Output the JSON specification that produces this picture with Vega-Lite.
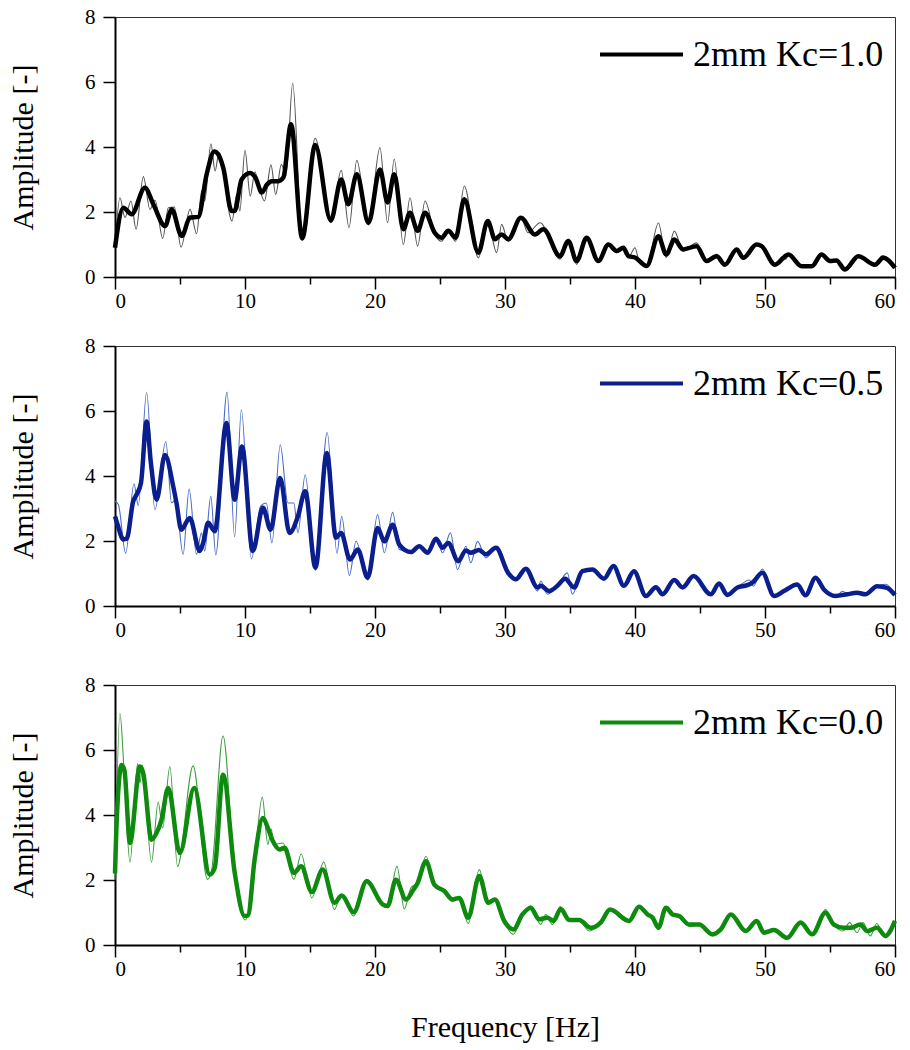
{
"$schema": "https://vega.github.io/schema/vega-lite/v6.json",
"padding": {"left": 8, "top": 5, "right": 5, "bottom": 5},
"background": "white",
"config": {
  "view": {"stroke": "#333", "strokeWidth": 1},
  "axis": {"labelFont": "Liberation Serif", "labelFontSize": 21, "labelColor": "#000", "titleFont": "Liberation Serif", "titleFontSize": 30, "titleFontWeight": "normal", "titleColor": "#000", "domainColor": "#000", "domainWidth": 2, "tickColor": "#000", "tickWidth": 1.5, "grid": false},
  "legend": {"labelFont": "Liberation Serif", "labelFontSize": 36, "labelColor": "#000", "labelLimit": 500, "symbolType": "stroke", "symbolSize": 6889, "symbolStrokeWidth": 4, "orient": "none", "legendX": 483, "legendY": -6, "padding": 0, "labelOffset": 8, "title": null}
},
"resolve": {"scale": {"color": "independent"}},
"spacing": 20,
"datasets": {
"k10s": [{"f":0,"a":0.9},{"f":0.64,"a":2.13},{"f":1.28,"a":1.93},{"f":2.3,"a":2.75},{"f":2.95,"a":2.24},{"f":3.85,"a":1.57},{"f":4.36,"a":2.08},{"f":5.13,"a":1.26},{"f":5.77,"a":1.83},{"f":6.4,"a":1.85},{"f":7.05,"a":3.16},{"f":7.64,"a":3.86},{"f":7.95,"a":3.77},{"f":8.33,"a":3.36},{"f":8.97,"a":2.03},{"f":9.2,"a":2.03},{"f":9.74,"a":3.0},{"f":10.4,"a":3.2},{"f":10.8,"a":3.06},{"f":11.3,"a":2.6},{"f":11.7,"a":2.85},{"f":12.05,"a":2.95},{"f":12.56,"a":2.95},{"f":12.95,"a":3.06},{"f":13.54,"a":4.7},{"f":14.4,"a":1.19},{"f":15.4,"a":4.06},{"f":16.6,"a":1.74},{"f":17.4,"a":3.0},{"f":17.95,"a":2.24},{"f":18.6,"a":3.16},{"f":19.5,"a":1.67},{"f":20.38,"a":3.31},{"f":20.97,"a":2.29},{"f":21.48,"a":3.16},{"f":22.18,"a":1.47},{"f":22.69,"a":1.98},{"f":23.28,"a":1.42},{"f":23.85,"a":1.98},{"f":24.6,"a":1.36},{"f":25.13,"a":1.21},{"f":25.64,"a":1.42},{"f":26.2,"a":1.21},{"f":26.87,"a":2.39},{"f":27.95,"a":0.75},{"f":28.67,"a":1.72},{"f":29.23,"a":1.16},{"f":29.74,"a":1.31},{"f":30.25,"a":1.16},{"f":31.22,"a":1.82},{"f":32.3,"a":1.31},{"f":32.95,"a":1.47},{"f":34.23,"a":0.64},{"f":34.87,"a":1.11},{"f":35.51,"a":0.49},{"f":36.28,"a":1.21},{"f":37.18,"a":0.49},{"f":37.95,"a":1.0},{"f":38.59,"a":0.8},{"f":39.1,"a":0.9},{"f":39.5,"a":0.64},{"f":40.0,"a":0.6},{"f":40.9,"a":0.34},{"f":41.8,"a":1.25},{"f":42.4,"a":0.69},{"f":43.03,"a":1.15},{"f":43.7,"a":0.85},{"f":44.74,"a":0.95},{"f":45.5,"a":0.49},{"f":46.28,"a":0.64},{"f":46.92,"a":0.38},{"f":47.82,"a":0.85},{"f":48.33,"a":0.59},{"f":49.35,"a":1.0},{"f":49.74,"a":0.95},{"f":50.77,"a":0.38},{"f":51.8,"a":0.69},{"f":52.82,"a":0.33},{"f":53.6,"a":0.33},{"f":54.35,"a":0.69},{"f":55.0,"a":0.49},{"f":55.5,"a":0.51},{"f":56.15,"a":0.23},{"f":57.18,"a":0.64},{"f":58.46,"a":0.38},{"f":59.1,"a":0.59},{"f":60,"a":0.28}],
"k10r": [{"f":0,"a":0.9},{"f":0.38,"a":2.44},{"f":0.77,"a":1.83},{"f":1.23,"a":2.34},{"f":1.62,"a":1.47},{"f":2.18,"a":3.09},{"f":2.69,"a":2.08},{"f":3.08,"a":2.36},{"f":3.67,"a":1.19},{"f":4.1,"a":2.13},{"f":4.56,"a":2.15},{"f":5.08,"a":0.92},{"f":5.77,"a":2.08},{"f":6.28,"a":1.33},{"f":6.67,"a":2.65},{"f":6.9,"a":2.34},{"f":7.38,"a":4.1},{"f":7.7,"a":3.26},{"f":8.0,"a":3.83},{"f":9.0,"a":1.72},{"f":9.36,"a":2.54},{"f":9.6,"a":2.03},{"f":10.0,"a":3.9},{"f":10.4,"a":2.49},{"f":10.77,"a":3.24},{"f":11.0,"a":2.9},{"f":11.5,"a":2.34},{"f":12.0,"a":3.45},{"f":12.36,"a":2.54},{"f":12.8,"a":3.47},{"f":13.15,"a":3.1},{"f":13.67,"a":5.96},{"f":14.4,"a":1.13},{"f":15.4,"a":4.27},{"f":16.6,"a":1.67},{"f":17.4,"a":3.28},{"f":18.0,"a":1.52},{"f":18.6,"a":3.59},{"f":19.5,"a":1.6},{"f":20.38,"a":3.98},{"f":20.97,"a":1.67},{"f":21.48,"a":3.63},{"f":22.18,"a":1.0},{"f":22.69,"a":2.44},{"f":23.28,"a":0.95},{"f":23.85,"a":2.34},{"f":24.6,"a":1.31},{"f":25.13,"a":1.1},{"f":25.64,"a":1.42},{"f":26.2,"a":1.1},{"f":26.87,"a":2.8},{"f":27.95,"a":0.59},{"f":28.67,"a":1.7},{"f":29.36,"a":0.75},{"f":29.74,"a":1.62},{"f":30.25,"a":1.1},{"f":31.22,"a":1.85},{"f":31.77,"a":1.36},{"f":32.7,"a":1.67},{"f":34.23,"a":0.55},{"f":34.87,"a":1.16},{"f":35.51,"a":0.39},{"f":36.28,"a":1.25},{"f":37.18,"a":0.45},{"f":37.95,"a":1.0},{"f":38.59,"a":0.75},{"f":39.1,"a":0.85},{"f":39.49,"a":0.6},{"f":40.0,"a":0.9},{"f":40.3,"a":0.5},{"f":40.9,"a":0.3},{"f":41.8,"a":1.66},{"f":42.4,"a":0.6},{"f":43.03,"a":1.41},{"f":43.7,"a":0.8},{"f":44.74,"a":1.05},{"f":45.5,"a":0.45},{"f":46.28,"a":0.7},{"f":46.92,"a":0.35},{"f":47.82,"a":0.85},{"f":48.33,"a":0.55},{"f":49.35,"a":1.0},{"f":49.74,"a":0.98},{"f":50.77,"a":0.35},{"f":51.3,"a":0.62},{"f":51.6,"a":0.55},{"f":51.9,"a":0.72},{"f":52.82,"a":0.3},{"f":53.6,"a":0.3},{"f":54.35,"a":0.72},{"f":55.0,"a":0.45},{"f":55.5,"a":0.51},{"f":56.15,"a":0.2},{"f":57.18,"a":0.64},{"f":58.46,"a":0.38},{"f":59.0,"a":0.65},{"f":60,"a":0.28}],
"k05s": [{"f":0,"a":2.76},{"f":0.2,"a":2.5},{"f":0.64,"a":2.05},{"f":0.9,"a":2.07},{"f":1.4,"a":3.22},{"f":1.66,"a":3.43},{"f":2.0,"a":3.79},{"f":2.43,"a":5.68},{"f":2.76,"a":4.4},{"f":3.2,"a":3.27},{"f":3.84,"a":4.65},{"f":4.48,"a":3.68},{"f":4.73,"a":3.17},{"f":5.1,"a":2.35},{"f":5.75,"a":2.71},{"f":6.52,"a":1.69},{"f":6.78,"a":1.94},{"f":7.16,"a":2.56},{"f":7.67,"a":2.3},{"f":8.57,"a":5.63},{"f":9.2,"a":3.27},{"f":9.77,"a":4.91},{"f":10.6,"a":1.69},{"f":11.38,"a":3.02},{"f":11.97,"a":2.35},{"f":12.7,"a":3.94},{"f":13.43,"a":2.25},{"f":14.07,"a":2.76},{"f":14.63,"a":3.53},{"f":15.42,"a":1.18},{"f":16.29,"a":4.71},{"f":17.0,"a":2.1},{"f":17.39,"a":2.25},{"f":18.08,"a":1.43},{"f":18.67,"a":1.74},{"f":19.44,"a":0.87},{"f":20.2,"a":2.4},{"f":20.72,"a":1.99},{"f":21.36,"a":2.5},{"f":21.87,"a":1.89},{"f":22.77,"a":1.66},{"f":23.4,"a":1.84},{"f":24.05,"a":1.64},{"f":24.69,"a":2.07},{"f":25.2,"a":1.79},{"f":25.63,"a":1.94},{"f":26.4,"a":1.38},{"f":26.99,"a":1.71},{"f":27.37,"a":1.64},{"f":28.0,"a":1.72},{"f":28.53,"a":1.59},{"f":29.3,"a":1.79},{"f":30.24,"a":1.02},{"f":30.83,"a":0.82},{"f":31.6,"a":1.15},{"f":32.5,"a":0.57},{"f":32.75,"a":0.62},{"f":33.39,"a":0.46},{"f":34.03,"a":0.62},{"f":34.62,"a":0.84},{"f":35.31,"a":0.57},{"f":35.95,"a":1.07},{"f":36.72,"a":1.12},{"f":37.62,"a":0.84},{"f":38.34,"a":1.23},{"f":39.15,"a":0.62},{"f":39.92,"a":1.07},{"f":40.84,"a":0.31},{"f":41.61,"a":0.58},{"f":42.12,"a":0.36},{"f":43.02,"a":0.8},{"f":43.66,"a":0.57},{"f":44.5,"a":0.92},{"f":45.83,"a":0.36},{"f":46.47,"a":0.69},{"f":47.1,"a":0.34},{"f":47.88,"a":0.57},{"f":48.64,"a":0.64},{"f":49.03,"a":0.72},{"f":49.8,"a":1.02},{"f":50.7,"a":0.31},{"f":51.46,"a":0.46},{"f":52.48,"a":0.66},{"f":53.12,"a":0.33},{"f":53.89,"a":0.87},{"f":54.53,"a":0.51},{"f":55.42,"a":0.31},{"f":56.32,"a":0.36},{"f":57.08,"a":0.41},{"f":57.72,"a":0.36},{"f":58.62,"a":0.61},{"f":59.39,"a":0.56},{"f":60,"a":0.34}],
"k05r": [{"f":0,"a":3.22},{"f":0.26,"a":3.12},{"f":0.82,"a":1.62},{"f":1.46,"a":3.76},{"f":1.79,"a":3.09},{"f":2.43,"a":6.57},{"f":3.07,"a":2.97},{"f":3.91,"a":5.06},{"f":4.35,"a":3.17},{"f":4.65,"a":3.27},{"f":5.24,"a":1.59},{"f":5.7,"a":3.6},{"f":6.27,"a":1.59},{"f":6.65,"a":2.25},{"f":6.9,"a":1.69},{"f":7.37,"a":3.38},{"f":7.75,"a":1.57},{"f":8.62,"a":6.58},{"f":9.2,"a":2.13},{"f":9.72,"a":6.04},{"f":10.49,"a":1.45},{"f":11.2,"a":3.07},{"f":11.64,"a":3.17},{"f":12.07,"a":1.94},{"f":12.71,"a":4.96},{"f":13.3,"a":3.17},{"f":13.76,"a":3.17},{"f":14.07,"a":2.25},{"f":14.63,"a":4.04},{"f":15.42,"a":1.1},{"f":16.32,"a":5.34},{"f":17.08,"a":1.62},{"f":17.44,"a":2.76},{"f":18.03,"a":0.94},{"f":18.54,"a":1.99},{"f":19.44,"a":0.8},{"f":20.2,"a":2.81},{"f":20.72,"a":1.64},{"f":21.36,"a":2.88},{"f":21.87,"a":1.74},{"f":22.77,"a":1.66},{"f":23.4,"a":1.84},{"f":24.05,"a":1.64},{"f":24.69,"a":2.1},{"f":25.2,"a":1.64},{"f":25.8,"a":2.25},{"f":26.35,"a":1.12},{"f":26.99,"a":1.84},{"f":27.37,"a":1.33},{"f":27.89,"a":1.99},{"f":28.53,"a":1.48},{"f":29.42,"a":1.84},{"f":30.24,"a":1.02},{"f":30.83,"a":0.82},{"f":31.6,"a":1.15},{"f":32.5,"a":0.46},{"f":32.75,"a":0.77},{"f":33.26,"a":0.36},{"f":34.03,"a":0.62},{"f":34.8,"a":1.02},{"f":35.18,"a":0.36},{"f":35.95,"a":1.07},{"f":36.72,"a":1.12},{"f":37.62,"a":0.84},{"f":38.34,"a":1.25},{"f":39.15,"a":0.6},{"f":39.92,"a":1.07},{"f":40.84,"a":0.3},{"f":41.61,"a":0.58},{"f":42.12,"a":0.36},{"f":43.02,"a":0.8},{"f":43.66,"a":0.57},{"f":44.5,"a":0.92},{"f":45.83,"a":0.36},{"f":46.47,"a":0.69},{"f":47.1,"a":0.34},{"f":47.88,"a":0.57},{"f":48.8,"a":0.8},{"f":49.1,"a":0.61},{"f":49.8,"a":1.14},{"f":50.7,"a":0.3},{"f":51.46,"a":0.46},{"f":52.48,"a":0.66},{"f":53.12,"a":0.33},{"f":53.89,"a":0.87},{"f":54.53,"a":0.51},{"f":55.42,"a":0.31},{"f":56.0,"a":0.45},{"f":56.32,"a":0.36},{"f":57.08,"a":0.41},{"f":57.72,"a":0.36},{"f":58.62,"a":0.61},{"f":59.3,"a":0.67},{"f":60,"a":0.34}],
"k00s": [{"f":0,"a":2.2},{"f":0.15,"a":4.0},{"f":0.51,"a":5.54},{"f":0.72,"a":5.39},{"f":1.15,"a":3.14},{"f":1.92,"a":5.49},{"f":2.17,"a":5.29},{"f":2.81,"a":3.24},{"f":3.2,"a":3.45},{"f":3.58,"a":3.86},{"f":4.09,"a":4.83},{"f":4.99,"a":2.83},{"f":6.09,"a":4.83},{"f":7.29,"a":2.17},{"f":7.67,"a":2.37},{"f":8.31,"a":5.24},{"f":9.21,"a":2.22},{"f":9.97,"a":0.89},{"f":10.23,"a":0.91},{"f":10.74,"a":2.63},{"f":11.38,"a":3.91},{"f":11.76,"a":3.6},{"f":12.15,"a":3.19},{"f":12.66,"a":2.94},{"f":13.04,"a":2.99},{"f":13.76,"a":2.22},{"f":14.32,"a":2.42},{"f":15.14,"a":1.63},{"f":15.98,"a":2.32},{"f":16.88,"a":1.3},{"f":17.44,"a":1.52},{"f":18.36,"a":1.01},{"f":19.36,"a":1.96},{"f":20.59,"a":1.25},{"f":20.97,"a":1.2},{"f":21.61,"a":2.01},{"f":22.38,"a":1.4},{"f":22.89,"a":1.66},{"f":23.28,"a":1.91},{"f":23.92,"a":2.58},{"f":24.56,"a":1.86},{"f":25.33,"a":1.66},{"f":25.97,"a":1.4},{"f":26.48,"a":1.45},{"f":27.17,"a":0.84},{"f":28.02,"a":2.12},{"f":28.71,"a":1.3},{"f":29.22,"a":1.4},{"f":29.94,"a":0.74},{"f":30.65,"a":0.48},{"f":31.34,"a":0.94},{"f":31.98,"a":1.15},{"f":32.62,"a":0.79},{"f":33.26,"a":0.84},{"f":33.73,"a":0.74},{"f":34.29,"a":1.11},{"f":34.93,"a":0.77},{"f":35.7,"a":0.77},{"f":36.6,"a":0.53},{"f":37.36,"a":0.69},{"f":38.08,"a":1.09},{"f":39.54,"a":0.74},{"f":40.31,"a":1.18},{"f":40.97,"a":0.94},{"f":41.36,"a":0.84},{"f":41.8,"a":0.53},{"f":42.38,"a":1.15},{"f":42.89,"a":0.94},{"f":43.4,"a":0.89},{"f":44.17,"a":0.63},{"f":44.94,"a":0.63},{"f":45.96,"a":0.33},{"f":46.6,"a":0.48},{"f":47.37,"a":0.94},{"f":48.52,"a":0.43},{"f":49.36,"a":0.74},{"f":49.92,"a":0.38},{"f":50.69,"a":0.46},{"f":51.71,"a":0.22},{"f":52.74,"a":0.69},{"f":53.63,"a":0.33},{"f":54.65,"a":0.99},{"f":55.29,"a":0.63},{"f":56.06,"a":0.53},{"f":56.57,"a":0.53},{"f":57.34,"a":0.63},{"f":57.85,"a":0.43},{"f":58.62,"a":0.53},{"f":59.26,"a":0.28},{"f":60,"a":0.74}],
"k00r": [{"f":0,"a":2.0},{"f":0.38,"a":7.13},{"f":0.72,"a":5.19},{"f":1.15,"a":2.55},{"f":1.74,"a":5.58},{"f":1.92,"a":4.98},{"f":2.1,"a":5.54},{"f":2.81,"a":2.55},{"f":3.32,"a":4.4},{"f":3.66,"a":3.6},{"f":4.22,"a":5.49},{"f":4.81,"a":2.42},{"f":6.01,"a":5.51},{"f":7.11,"a":2.02},{"f":7.42,"a":2.27},{"f":8.31,"a":6.43},{"f":9.21,"a":2.12},{"f":10.03,"a":0.77},{"f":10.74,"a":2.6},{"f":11.33,"a":4.55},{"f":11.76,"a":3.09},{"f":12.02,"a":3.57},{"f":12.22,"a":3.09},{"f":12.92,"a":3.14},{"f":13.76,"a":2.02},{"f":14.32,"a":2.8},{"f":15.14,"a":1.45},{"f":16.06,"a":2.55},{"f":16.88,"a":1.09},{"f":17.39,"a":1.55},{"f":18.36,"a":0.89},{"f":19.36,"a":2.02},{"f":20.59,"a":1.2},{"f":20.97,"a":1.15},{"f":21.69,"a":2.42},{"f":22.25,"a":1.11},{"f":22.76,"a":1.76},{"f":23.28,"a":1.91},{"f":23.92,"a":2.73},{"f":24.56,"a":1.86},{"f":25.33,"a":1.66},{"f":25.97,"a":1.35},{"f":26.48,"a":1.45},{"f":27.17,"a":0.66},{"f":28.02,"a":2.32},{"f":28.71,"a":1.25},{"f":29.22,"a":1.4},{"f":29.94,"a":0.7},{"f":30.65,"a":0.33},{"f":31.34,"a":0.94},{"f":31.98,"a":1.2},{"f":32.75,"a":0.63},{"f":33.13,"a":0.94},{"f":33.65,"a":0.63},{"f":34.24,"a":1.18},{"f":34.93,"a":0.74},{"f":35.7,"a":0.77},{"f":36.47,"a":0.43},{"f":37.36,"a":0.69},{"f":38.08,"a":1.12},{"f":39.54,"a":0.72},{"f":40.31,"a":1.2},{"f":40.97,"a":0.9},{"f":41.36,"a":0.84},{"f":41.8,"a":0.48},{"f":42.5,"a":1.18},{"f":42.89,"a":0.94},{"f":43.4,"a":0.89},{"f":44.25,"a":0.56},{"f":44.94,"a":0.66},{"f":45.96,"a":0.28},{"f":46.6,"a":0.48},{"f":47.37,"a":0.96},{"f":48.52,"a":0.4},{"f":49.36,"a":0.76},{"f":49.92,"a":0.35},{"f":50.69,"a":0.46},{"f":51.71,"a":0.2},{"f":52.74,"a":0.7},{"f":53.63,"a":0.3},{"f":54.65,"a":1.09},{"f":55.29,"a":0.63},{"f":56.0,"a":0.43},{"f":56.5,"a":0.69},{"f":57.08,"a":0.38},{"f":57.54,"a":0.69},{"f":58.1,"a":0.28},{"f":58.6,"a":0.66},{"f":59.26,"a":0.22},{"f":60,"a":0.74}]
},
"vconcat": [
{
 "width": 780, "height": 260,
 "layer": [
  {"data": {"name": "k10r"}, "mark": {"type": "line", "interpolate": "monotone", "color": "#555555", "strokeWidth": 1.1},
   "encoding": {
    "x": {"field": "f", "type": "quantitative", "scale": {"domain": [0, 60], "nice": false}, "axis": {"values": [0,5,10,15,20,25,30,35,40,45,50,55,60], "labelExpr": "datum.value % 10 === 0 ? datum.label : ''", "tickSize": {"condition": {"test": "datum.value % 10 === 0", "value": 12}, "value": 7}, "labelPadding": 1, "title": null, "minExtent": 36}},
    "y": {"field": "a", "type": "quantitative", "scale": {"domain": [0, 8], "nice": false}, "axis": {"values": [0,1,2,3,4,5,6,7,8], "labelExpr": "datum.value % 2 === 0 ? datum.label : ''", "tickSize": {"condition": {"test": "datum.value % 2 === 0", "value": 12}, "value": 7}, "labelPadding": 8, "title": "Amplitude [-]", "titlePadding": 46}}
   }},
  {"data": {"name": "k10s"}, "mark": {"type": "line", "interpolate": "monotone", "strokeWidth": 4.5},
   "encoding": {
    "x": {"field": "f", "type": "quantitative"},
    "y": {"field": "a", "type": "quantitative"},
    "color": {"datum": "2mm Kc=1.0", "scale": {"range": ["#000000"]}}
   }}
 ]
},
{
 "width": 780, "height": 260,
 "layer": [
  {"data": {"name": "k05r"}, "mark": {"type": "line", "interpolate": "monotone", "color": "#4a6cc8", "strokeWidth": 1.1},
   "encoding": {
    "x": {"field": "f", "type": "quantitative", "scale": {"domain": [0, 60], "nice": false}, "axis": {"values": [0,5,10,15,20,25,30,35,40,45,50,55,60], "labelExpr": "datum.value % 10 === 0 ? datum.label : ''", "tickSize": {"condition": {"test": "datum.value % 10 === 0", "value": 12}, "value": 7}, "labelPadding": 1, "title": null, "minExtent": 46}},
    "y": {"field": "a", "type": "quantitative", "scale": {"domain": [0, 8], "nice": false}, "axis": {"values": [0,1,2,3,4,5,6,7,8], "labelExpr": "datum.value % 2 === 0 ? datum.label : ''", "tickSize": {"condition": {"test": "datum.value % 2 === 0", "value": 12}, "value": 7}, "labelPadding": 8, "title": "Amplitude [-]", "titlePadding": 46}}
   }},
  {"data": {"name": "k05s"}, "mark": {"type": "line", "interpolate": "monotone", "strokeWidth": 4.5},
   "encoding": {
    "x": {"field": "f", "type": "quantitative"},
    "y": {"field": "a", "type": "quantitative"},
    "color": {"datum": "2mm Kc=0.5", "scale": {"range": ["#0b1e8e"]}}
   }}
 ]
},
{
 "width": 780, "height": 260,
 "layer": [
  {"data": {"name": "k00r"}, "mark": {"type": "line", "interpolate": "monotone", "color": "#3c9e3c", "strokeWidth": 1.1},
   "encoding": {
    "x": {"field": "f", "type": "quantitative", "scale": {"domain": [0, 60], "nice": false}, "axis": {"values": [0,5,10,15,20,25,30,35,40,45,50,55,60], "labelExpr": "datum.value % 10 === 0 ? datum.label : ''", "tickSize": {"condition": {"test": "datum.value % 10 === 0", "value": 12}, "value": 7}, "labelPadding": 1, "title": "Frequency [Hz]", "titlePadding": 33}},
    "y": {"field": "a", "type": "quantitative", "scale": {"domain": [0, 8], "nice": false}, "axis": {"values": [0,1,2,3,4,5,6,7,8], "labelExpr": "datum.value % 2 === 0 ? datum.label : ''", "tickSize": {"condition": {"test": "datum.value % 2 === 0", "value": 12}, "value": 7}, "labelPadding": 8, "title": "Amplitude [-]", "titlePadding": 46}}
   }},
  {"data": {"name": "k00s"}, "mark": {"type": "line", "interpolate": "monotone", "strokeWidth": 4.5},
   "encoding": {
    "x": {"field": "f", "type": "quantitative"},
    "y": {"field": "a", "type": "quantitative"},
    "color": {"datum": "2mm Kc=0.0", "scale": {"range": ["#0e8a0e"]}}
   }}
 ]
}
]
}
